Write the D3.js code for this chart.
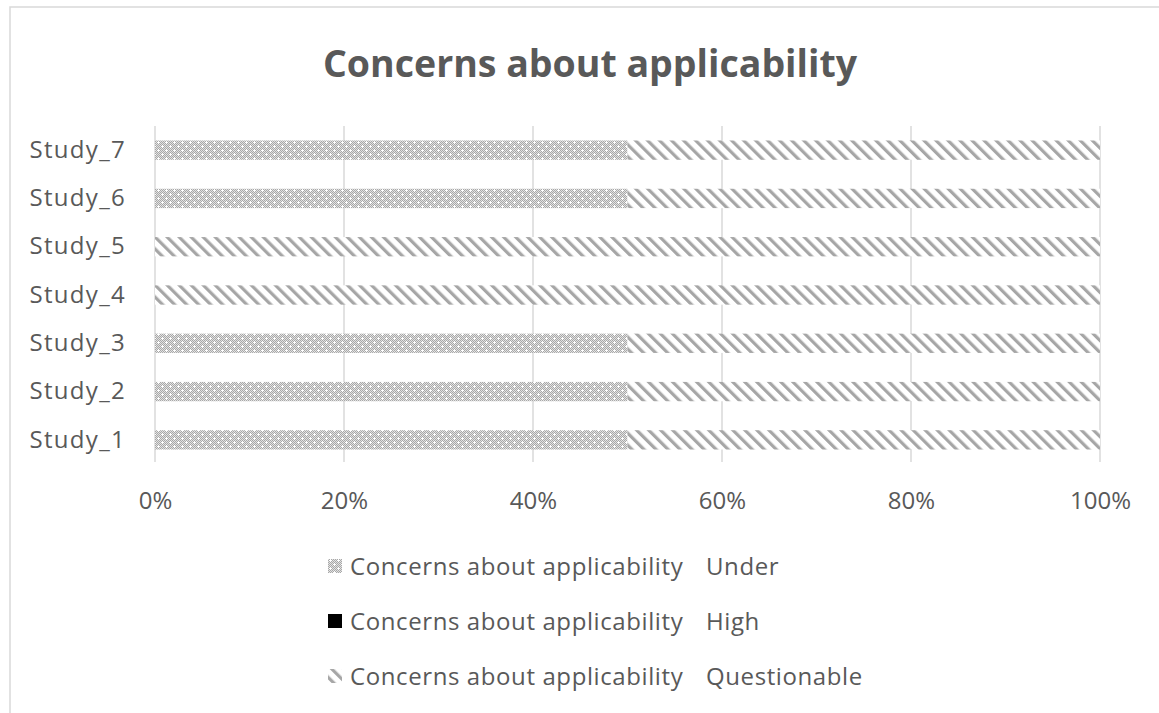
<!DOCTYPE html>
<html>
<head>
<meta charset="utf-8">
<script src="https://cdn.jsdelivr.net/npm/d3@7"></script>
<style>
  html, body { margin: 0; padding: 0; background: #fff; }
  svg { display: block; }
  text { font-family: "Open Sans", "Noto Sans", sans-serif; fill: #595959; }
</style>
</head>
<body>
<svg id="chart" width="1159" height="713"></svg>
<script>
// Study names, bottom to top
const categories = ["Study_1", "Study_2", "Study_3", "Study_4", "Study_5", "Study_6", "Study_7"];
// Counts per rating for each study
const underValues = [1, 1, 1, 0, 0, 1, 1];
const highValues = [0, 0, 0, 0, 0, 0, 0];
const questionableValues = [1, 1, 1, 1, 1, 1, 1];
const seriesNames = ["Under", "High", "Questionable"];
const seriesPrefix = "Concerns about applicability";
const tickValues = [0, 0.2, 0.4, 0.6, 0.8, 1];
const chartTitle = "Concerns about applicability";

const svg = d3.select("#chart");
const plot = { left: 155, right: 1100, top: 126, bottom: 464 };

// Outer frame
svg.append("rect")
  .attr("x", 10).attr("y", 7).attr("width", 1170).attr("height", 730)
  .attr("fill", "#fff").attr("stroke", "#d9d9d9").attr("stroke-width", 1.5);

// Fill patterns
const defs = svg.append("defs");
const dots = defs.append("pattern")
  .attr("id", "pat-under").attr("patternUnits", "userSpaceOnUse")
  .attr("width", 8).attr("height", 8);
dots.append("rect").attr("width", 8).attr("height", 8).attr("fill", "#e2e2e2");
for (let yy = 0; yy < 8; yy++) {
  for (let xx = 0; xx < 8; xx++) {
    if ((xx + yy) % 2 === 0) {
      dots.append("rect").attr("x", xx).attr("y", yy).attr("width", 1).attr("height", 1).attr("fill", "#a8a8a8");
    }
  }
}
// small white crosses
[[2, 2], [6, 6]].forEach(([cx, cy]) => {
  dots.append("rect").attr("x", cx - 1).attr("y", cy).attr("width", 3).attr("height", 1).attr("fill", "#fff");
  dots.append("rect").attr("x", cx).attr("y", cy - 1).attr("width", 1).attr("height", 3).attr("fill", "#fff");
});

const stripes = defs.append("pattern")
  .attr("id", "pat-quest").attr("patternUnits", "userSpaceOnUse")
  .attr("width", 8.5).attr("height", 8.5)
  .attr("patternTransform", "rotate(-45)");
stripes.append("rect").attr("width", 8.5).attr("height", 8.5).attr("fill", "#fff");
stripes.append("rect").attr("width", 3.2).attr("height", 8.5).attr("fill", "#a6a6a6");

const fills = { Under: "url(#pat-under)", High: "#000", Questionable: "url(#pat-quest)" };

// Scales
const x = d3.scaleLinear().domain([0, 1]).range([plot.left, plot.right]);
const y = d3.scaleBand().domain(categories).range([plot.bottom, plot.top]).paddingInner(0.6).paddingOuter(0.3);

// Title
svg.append("text")
  .attr("x", 590).attr("y", 77).attr("text-anchor", "middle")
  .style("font-size", "37.5px").style("font-weight", "700")
  .text(chartTitle);

// Vertical gridlines
svg.append("g").selectAll("line").data(tickValues).join("line")
  .attr("x1", d => x(d)).attr("x2", d => x(d))
  .attr("y1", plot.top).attr("y2", plot.bottom - 2)
  .attr("stroke", "#d9d9d9").attr("stroke-width", 1.5);

// X axis tick labels
const xAxis = d3.axisBottom(x).tickValues(tickValues).tickFormat(d3.format(".0%")).tickSize(0).tickPadding(0);
const gx = svg.append("g").attr("transform", `translate(0,${492})`).call(xAxis);
gx.select(".domain").remove();
gx.selectAll("text").style("font-size", "24px").attr("fill", "#595959").attr("font-family", null);

// Y axis category labels
const yAxis = d3.axisLeft(y).tickSize(0).tickPadding(29);
const gy = svg.append("g").attr("transform", `translate(${plot.left},0)`).call(yAxis);
gy.select(".domain").remove();
gy.selectAll("text").style("font-size", "24px").style("letter-spacing", "1.3px")
  .attr("fill", "#595959").attr("font-family", null);

// Stacked 100% bars
const rows = categories.map((c, i) => ({
  cat: c, Under: underValues[i], High: highValues[i], Questionable: questionableValues[i]
}));
const stacked = d3.stack().keys(seriesNames).offset(d3.stackOffsetExpand)(rows);

svg.append("g").selectAll("g").data(stacked).join("g")
  .attr("fill", d => fills[d.key])
  .selectAll("rect").data(d => d).join("rect")
  .attr("x", d => x(d[0]))
  .attr("y", d => y(d.data.cat))
  .attr("width", d => x(d[1]) - x(d[0]))
  .attr("height", y.bandwidth());

// Legend
const legendY = [566, 621, 676];
const lg = svg.append("g");
seriesNames.forEach((name, i) => {
  const g = lg.append("g").attr("transform", `translate(0,${legendY[i]})`);
  g.append("rect").attr("x", 328).attr("y", -7).attr("width", 14).attr("height", 14).attr("fill", fills[name]);
  g.append("text").attr("x", 350).attr("y", 9).style("font-size", "24px").style("letter-spacing", "0.6px").text(seriesPrefix);
  g.append("text").attr("x", 706).attr("y", 9).style("font-size", "24px").style("letter-spacing", "0.6px").text(name);
});
</script>
</body>
</html>
